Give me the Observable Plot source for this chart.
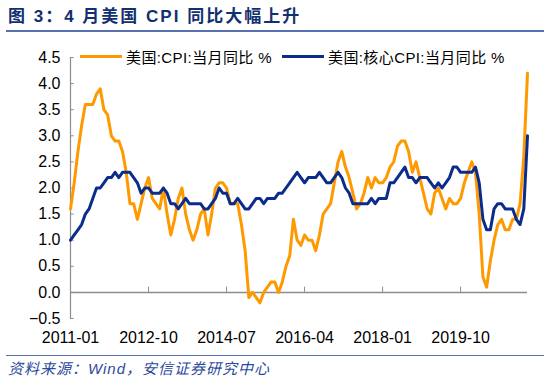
<!DOCTYPE html>
<html>
<head>
<meta charset="utf-8">
<script src="https://cdn.jsdelivr.net/npm/d3@7"></script>
<script src="https://cdn.jsdelivr.net/npm/@observablehq/plot@0.6"></script>
<style>
  html, body { margin: 0; padding: 0; background: #fff; }
  #wrap { position: relative; width: 550px; height: 381px; overflow: hidden;
    font-family: "Liberation Sans", Arial, "Noto Sans CJK SC", sans-serif; }
  #title { position: absolute; left: 6px; top: 0; width: 538px; height: 32px;
    border-bottom: 2px solid #5670B0; color: #12306F; font-weight: bold;
    font-size: 17px; line-height: 34px; letter-spacing: 2px; padding-left: 2px; box-sizing: border-box; }
  #chart { position: absolute; left: 0; top: 35px; }
  #footer { position: absolute; left: 6px; top: 355px; width: 538px; height: 26px;
    border-top: 1.5px solid #5670B0; color: #2C4A9A; font-style: italic;
    font-size: 15px; line-height: 26px; letter-spacing: 1px; padding-left: 2px; box-sizing: border-box; }
  #legend { position: absolute; top: 46px; left: 0; font-size: 15px; color: #000; letter-spacing: 0.4px; }
  .lg { position: absolute; white-space: nowrap; display: flex; align-items: center; }
  .sw { display: inline-block; width: 42px; height: 3px; margin-right: 4px; }
</style>
</head>
<body>
<div id="wrap">
  <div id="title">图 3：4 月美国 CPI 同比大幅上升</div>
  <div id="chart"></div>
  <div id="legend"></div>
  <div id="footer">资料来源：Wind，安信证券研究中心</div>
</div>
<script>
// ---- data ----
const startYear = 2011;
const seriesNames = ["美国:CPI:当月同比 %", "美国:核心CPI:当月同比 %"];
const seriesColors = ["#FF9900", "#0C2C8C"];
const cpi = [
  1.6, 2.1, 2.7, 3.2, 3.6, 3.6, 3.6, 3.8, 3.9, 3.5, 3.4, 3.0,
  2.9, 2.9, 2.7, 2.3, 1.7, 1.7, 1.4, 1.7, 2.0, 2.2, 1.8, 1.7,
  1.6, 2.0, 1.5, 1.1, 1.4, 1.8, 2.0, 1.5, 1.2, 1.0, 1.2, 1.5,
  1.6, 1.1, 1.5, 2.0, 2.1, 2.1, 2.0, 1.7, 1.7, 1.7, 1.3, 0.8,
  -0.1, 0.0, -0.1, -0.2, 0.0, 0.1, 0.2, 0.2, 0.0, 0.2, 0.5, 0.7,
  1.4, 1.0, 0.9, 1.1, 1.0, 1.0, 0.8, 1.1, 1.5, 1.6, 1.7, 2.1,
  2.5, 2.7, 2.4, 2.2, 1.9, 1.6, 1.7, 1.9, 2.2, 2.0, 2.2, 2.1,
  2.1, 2.2, 2.4, 2.5, 2.8, 2.9, 2.9, 2.7, 2.3, 2.5, 2.2, 1.9,
  1.6, 1.5, 1.9, 2.0, 1.8, 1.6, 1.8, 1.7, 1.7, 1.8, 2.1, 2.3,
  2.5, 2.3, 1.5, 0.3, 0.1, 0.6, 1.0, 1.3, 1.4, 1.2, 1.2, 1.4,
  1.4, 1.7, 2.6, 4.2
];
const coreCpi = [
  1.0, 1.1, 1.2, 1.3, 1.5, 1.6, 1.8, 2.0, 2.0, 2.1, 2.2, 2.2,
  2.3, 2.2, 2.3, 2.3, 2.3, 2.2, 2.1, 1.9, 2.0, 2.0, 1.9, 1.9,
  1.9, 2.0, 1.9, 1.7, 1.7, 1.6, 1.7, 1.8, 1.7, 1.7, 1.7, 1.7,
  1.6, 1.6, 1.7, 1.8, 2.0, 1.9, 1.9, 1.7, 1.7, 1.8, 1.7, 1.6,
  1.6, 1.7, 1.8, 1.8, 1.7, 1.8, 1.8, 1.8, 1.9, 1.9, 2.0, 2.1,
  2.2, 2.3, 2.2, 2.1, 2.2, 2.2, 2.2, 2.3, 2.2, 2.1, 2.1, 2.2,
  2.3, 2.2, 2.0, 1.9, 1.7, 1.7, 1.7, 1.7, 1.7, 1.8, 1.7, 1.8,
  1.8, 1.8, 2.1, 2.1, 2.2, 2.3, 2.4, 2.2, 2.2, 2.1, 2.2, 2.2,
  2.2, 2.1, 2.0, 2.1, 2.0, 2.1, 2.2, 2.4, 2.4, 2.3, 2.3, 2.3,
  2.3, 2.4, 2.1, 1.4, 1.2, 1.2, 1.6, 1.7, 1.7, 1.6, 1.6, 1.6,
  1.4, 1.3, 1.6, 3.0
];
const xTickLabels = ["2011-01", "2012-10", "2014-07", "2016-04", "2018-01", "2019-10"];
const yTicks = [-0.5, 0, 0.5, 1, 1.5, 2, 2.5, 3, 3.5, 4, 4.5];

// ---- build ----
const monthIndex = lbl => { const [y, m] = lbl.split("-").map(Number); return (y - startYear) * 12 + (m - 1); };
const xTicks = xTickLabels.map(monthIndex);
const labelOf = new Map(xTickLabels.map(l => [monthIndex(l), l]));
const n = cpi.length;
const rows = [];
cpi.forEach((v, i) => rows.push({i, v, s: seriesNames[0]}));
coreCpi.forEach((v, i) => rows.push({i, v, s: seriesNames[1]}));

const axisColor = "#8C8C8C";
const chart = Plot.plot({
  width: 550,
  height: 319,
  marginLeft: 70,
  marginRight: 23,
  marginTop: 22,
  marginBottom: 36,
  style: {fontFamily: '"Liberation Sans", Arial, "Noto Sans CJK SC", sans-serif', fontSize: "16px", color: "#000", background: "transparent"},
  x: {domain: [0, n - 1]},
  y: {domain: [-0.5, 4.5]},
  color: {domain: seriesNames, range: seriesColors},
  marks: [
    Plot.ruleX([0], {y1: -0.5, y2: 4.5, stroke: axisColor, strokeWidth: 1.2}),
    Plot.ruleY(yTicks, {y: d => d, x1: 0, x2: 1, stroke: axisColor}),
    Plot.ruleY([0], {x1: 0, x2: n - 1, stroke: axisColor, strokeWidth: 1.5}),
    Plot.ruleX(xTicks, {x: d => d, y1: 0, y2: 0.1, stroke: axisColor}),
    Plot.axisY({ticks: yTicks, tickFormat: d3.format(".1f"), tickSize: 0, tickPadding: 10, label: null, fontSize: 16}),
    Plot.axisX({ticks: xTicks, tickFormat: d => labelOf.get(d), tickSize: 0, tickPadding: 13, label: null, fontSize: 16}),
    Plot.line(rows.filter(d => d.s === seriesNames[0]), {x: "i", y: "v", stroke: "s", strokeWidth: 3, strokeLinejoin: "round"}),
    Plot.line(rows.filter(d => d.s === seriesNames[1]), {x: "i", y: "v", stroke: "s", strokeWidth: 3, strokeLinejoin: "round"})
  ]
});
document.getElementById("chart").appendChild(chart);

// legend
const lg = document.getElementById("legend");
const lgLeft = [80, 282];
seriesNames.forEach((name, k) => {
  const d = document.createElement("div");
  d.className = "lg";
  d.style.left = lgLeft[k] + "px";
  d.innerHTML = `<span class="sw" style="background:${seriesColors[k]}"></span><span>${name}</span>`;
  lg.appendChild(d);
});
</script>
</body>
</html>
